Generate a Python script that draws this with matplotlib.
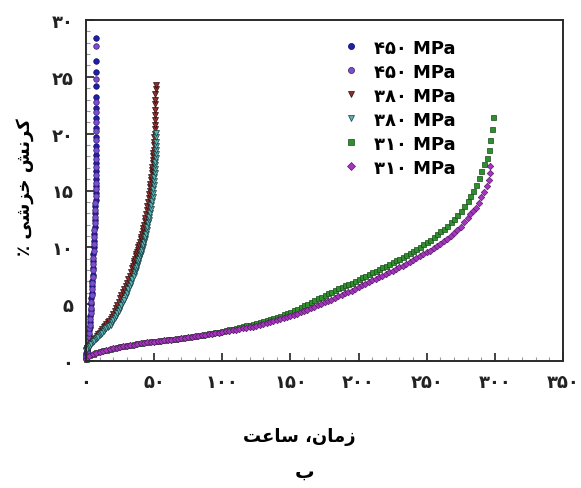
"""Creep strain vs. time at three stress levels (Persian labels)."""

import matplotlib

matplotlib.use("Agg")
import matplotlib.pyplot as plt
from matplotlib.ticker import MultipleLocator

# --- data (time in hours, creep strain in %) ---
t_450a = [0.0, 0.1, 0.3, 0.5, 0.8, 1.1, 1.4, 1.8, 2.1, 2.4, 2.6, 2.9, 3.2, 3.5, 3.8, 4.0,
          4.3, 4.5, 4.7, 4.9, 5.1, 5.3, 5.5, 5.7, 5.9, 6.1, 6.3, 6.5, 6.7, 6.9, 7.0, 7.1,
          7.2, 7.3, 7.4, 7.45, 7.5, 7.5, 7.55, 7.6, 7.6, 7.6, 7.65, 7.65, 7.7, 7.7, 7.7]
e_450a = [0.3, 0.5, 0.7, 0.9, 1.0, 1.3, 1.6, 2.0, 2.3, 2.7, 3.0, 3.4, 4.0, 4.5, 5.0, 5.5,
          6.0, 6.6, 7.0, 7.6, 8.2, 8.8, 9.4, 10.0, 10.6, 11.2, 11.8, 12.4, 13.0, 13.6, 14.2, 14.8,
          15.4, 16.0, 16.7, 17.4, 18.1, 18.9, 19.7, 20.5, 21.4, 22.3, 23.2, 24.2, 25.4, 26.4, 28.4]

t_450b = [0.0, 0.2, 0.4, 0.6, 0.9, 1.2, 1.5, 1.9, 2.2, 2.5, 2.8, 3.1, 3.4, 3.7, 3.9, 4.2,
          4.4, 4.6, 4.8, 5.0, 5.2, 5.4, 5.6, 5.8, 6.0, 6.2, 6.4, 6.6, 6.8, 6.9, 7.0, 7.1,
          7.2, 7.3, 7.35, 7.4, 7.45, 7.5, 7.5, 7.55, 7.6, 7.6, 7.65, 7.7]
e_450b = [0.2, 0.4, 0.6, 0.8, 1.1, 1.4, 1.8, 2.1, 2.5, 2.9, 3.2, 3.7, 4.2, 4.7, 5.2, 5.8,
          6.3, 6.9, 7.4, 8.0, 8.5, 9.1, 9.7, 10.3, 10.9, 11.5, 12.1, 12.7, 13.3, 13.9, 14.5, 15.1,
          15.7, 16.4, 17.1, 17.8, 18.6, 19.4, 20.2, 21.0, 21.9, 22.8, 24.8, 27.7]

t_380a = [0, 1, 2, 3, 4, 5, 6, 7, 8, 9, 10, 11, 12, 13, 14, 15, 16, 17, 18, 19, 20, 21, 22,
          23, 24, 25, 26, 27, 28, 29, 30, 31, 32, 33, 34, 34.5, 35, 35.5, 36, 36.5, 37, 37.5,
          38, 38.5, 39, 39.5, 40, 40.5, 41, 41.5, 42, 42.5, 43, 43.5, 44, 44.5, 45, 45.5, 46,
          46.4, 46.7, 47.0, 47.3, 47.6, 47.9, 48.2, 48.4, 48.7, 48.9, 49.1, 49.3, 49.5, 49.7,
          49.9, 50.0, 50.2, 50.3, 50.4, 50.5, 50.6, 50.7, 50.8, 50.85, 50.9, 50.95, 51.0, 51.0]
e_380a = [1.0, 1.15, 1.3, 1.45, 1.6, 1.75, 1.9, 2.05, 2.2, 2.35, 2.5, 2.65, 2.8, 2.95, 3.1,
          3.25, 3.4, 3.55, 3.7, 3.9, 4.1, 4.4, 4.7, 4.95, 5.2, 5.5, 5.8, 6.05, 6.3, 6.6, 6.9,
          7.2, 7.5, 7.85, 8.2, 8.4, 8.6, 8.8, 9.0, 9.2, 9.4, 9.6, 9.8, 10.0, 10.2, 10.45, 10.7,
          10.95, 11.2, 11.45, 11.7, 12.0, 12.3, 12.6, 12.9, 13.25, 13.6, 13.95, 14.3, 14.65,
          15.0, 15.3, 15.6, 15.9, 16.2, 16.5, 16.8, 17.1, 17.4, 17.7, 18.0, 18.3, 18.6, 19.0,
          19.3, 19.7, 20.0, 20.4, 20.8, 21.2, 21.6, 22.1, 22.6, 23.0, 23.5, 23.9, 24.3]

t_380b = [0, 1, 2, 3, 4, 5, 6, 7, 8, 9, 10, 11, 12, 13, 14, 15, 16, 17, 18, 19, 20, 21, 22,
          23, 24, 25, 26, 27, 28, 29, 30, 31, 32, 33, 34, 35, 36, 36.5, 37, 37.5, 38, 38.5, 39,
          39.5, 40, 40.5, 41, 41.5, 42, 42.5, 43, 43.5, 44, 44.5, 45, 45.5, 46, 46.5, 47, 47.5,
          48, 48.4, 48.8, 49.2, 49.5, 49.8, 50.0, 50.2, 50.4, 50.6, 50.7, 50.85, 51.0, 51.05,
          51.1, 51.15, 51.2, 51.25, 51.3]
e_380b = [0.9, 1.05, 1.2, 1.35, 1.5, 1.65, 1.8, 1.9, 2.0, 2.15, 2.3, 2.4, 2.5, 2.65, 2.8,
          2.9, 3.0, 3.1, 3.2, 3.4, 3.6, 3.8, 4.0, 4.2, 4.4, 4.65, 4.9, 5.15, 5.4, 5.7, 6.0, 6.3,
          6.6, 6.9, 7.2, 7.5, 7.8, 8.0, 8.2, 8.4, 8.6, 8.8, 9.0, 9.2, 9.4, 9.6, 9.8, 10.0, 10.2,
          10.45, 10.7, 10.95, 11.2, 11.5, 11.8, 12.1, 12.4, 12.7, 13.0, 13.35, 13.7, 14.05, 14.4,
          14.75, 15.1, 15.45, 15.8, 16.15, 16.5, 16.85, 17.2, 17.55, 17.9, 18.25, 18.6, 18.95,
          19.3, 19.7, 20.1]

t_310a = [0, 2.5, 5, 7.5, 10, 12.5, 15, 17.5, 20, 22.5, 25, 27.5, 30, 32.5, 35, 37.5, 40,
          42.5, 45, 47.5, 50, 52.5, 55, 57.5, 60, 62.5, 65, 67.5, 70, 72.5, 75, 77.5, 80, 82.5,
          85, 87.5, 90, 92.5, 95, 97.5, 100, 102.5, 105, 107.5, 110, 112.5, 115, 117.5, 120,
          122.5, 125, 127.5, 130, 132.5, 135, 137.5, 140, 142.5, 145, 147.5, 150, 152.5, 155,
          157.5, 160, 162.5, 165, 167.5, 170, 172.5, 175, 177.5, 180, 182.5, 185, 187.5, 190,
          192.5, 195, 197.5, 200, 202.5, 205, 207.5, 210, 212.5, 215, 217.5, 220, 222.5, 225,
          227.5, 230, 232.5, 235, 237.5, 240, 242.5, 245, 247.5, 250, 252.5, 255, 257.5, 260,
          262.5, 265, 267.5, 270, 272.5, 275, 277.5, 280, 282, 284, 286, 288, 290, 292, 294,
          295.5, 296.7, 297.8, 298.4]
e_310a = [0.2, 0.5, 0.65, 0.76, 0.85, 0.93, 1.0, 1.08, 1.15, 1.23, 1.3, 1.35, 1.4, 1.45, 1.5,
          1.55, 1.6, 1.65, 1.7, 1.72, 1.75, 1.79, 1.83, 1.87, 1.9, 1.93, 1.97, 2.01, 2.05, 2.09,
          2.13, 2.17, 2.22, 2.27, 2.32, 2.37, 2.42, 2.47, 2.52, 2.58, 2.65, 2.71, 2.78, 2.85,
          2.92, 2.99, 3.06, 3.13, 3.2, 3.28, 3.37, 3.45, 3.54, 3.63, 3.72, 3.81, 3.9, 4.0, 4.1,
          4.22, 4.35, 4.47, 4.6, 4.75, 4.9, 5.05, 5.2, 5.35, 5.5, 5.65, 5.8, 5.95, 6.1, 6.25,
          6.4, 6.52, 6.65, 6.77, 6.9, 7.05, 7.2, 7.35, 7.5, 7.65, 7.8, 7.95, 8.1, 8.25, 8.4,
          8.55, 8.7, 8.85, 9.0, 9.17, 9.35, 9.52, 9.7, 9.87, 10.05, 10.25, 10.45, 10.67, 10.9,
          11.15, 11.4, 11.65, 11.9, 12.2, 12.5, 12.85, 13.2, 13.6, 14.1, 14.5, 15.0, 15.5, 16.1,
          16.7, 17.3, 17.9, 18.6, 19.4, 20.4, 21.5]

t_310b = [0, 2.5, 5, 7.5, 10, 12.5, 15, 17.5, 20, 22.5, 25, 27.5, 30, 32.5, 35, 37.5, 40,
          42.5, 45, 47.5, 50, 52.5, 55, 57.5, 60, 62.5, 65, 67.5, 70, 72.5, 75, 77.5, 80, 82.5,
          85, 87.5, 90, 92.5, 95, 97.5, 100, 102.5, 105, 107.5, 110, 112.5, 115, 117.5, 120,
          122.5, 125, 127.5, 130, 132.5, 135, 137.5, 140, 142.5, 145, 147.5, 150, 152.5, 155,
          157.5, 160, 162.5, 165, 167.5, 170, 172.5, 175, 177.5, 180, 182.5, 185, 187.5, 190,
          192.5, 195, 197.5, 200, 202.5, 205, 207.5, 210, 212.5, 215, 217.5, 220, 222.5, 225,
          227.5, 230, 232.5, 235, 237.5, 240, 242.5, 245, 247.5, 250, 252.5, 255, 257.5, 260,
          262.5, 265, 267.5, 270, 272.5, 275, 277.5, 280, 282, 284, 286, 288, 290, 292, 294,
          295.5, 296.3, 296.8]
e_310b = [0.2, 0.45, 0.6, 0.7, 0.8, 0.88, 0.95, 1.03, 1.1, 1.18, 1.25, 1.3, 1.35, 1.4, 1.45,
          1.5, 1.55, 1.59, 1.63, 1.67, 1.7, 1.74, 1.78, 1.82, 1.85, 1.89, 1.92, 1.96, 2.0, 2.04,
          2.08, 2.12, 2.16, 2.2, 2.25, 2.3, 2.35, 2.4, 2.45, 2.5, 2.55, 2.6, 2.65, 2.7, 2.75,
          2.8, 2.86, 2.91, 2.97, 3.03, 3.1, 3.17, 3.25, 3.32, 3.4, 3.48, 3.57, 3.66, 3.75, 3.85,
          3.95, 4.05, 4.15, 4.27, 4.4, 4.52, 4.65, 4.77, 4.9, 5.02, 5.15, 5.27, 5.4, 5.55, 5.7,
          5.82, 5.95, 6.07, 6.2, 6.35, 6.5, 6.65, 6.8, 6.95, 7.1, 7.25, 7.4, 7.52, 7.65, 7.8,
          7.95, 8.1, 8.25, 8.4, 8.55, 8.7, 8.85, 9.02, 9.2, 9.37, 9.55, 9.72, 9.9, 10.1, 10.3,
          10.52, 10.75, 11.0, 11.25, 11.52, 11.8, 12.2, 12.6, 12.9, 13.2, 13.5, 13.9, 14.4,
          14.9, 15.4, 15.9, 16.5, 17.15]

series_labels = ["۴۵۰ MPa", "۴۵۰ MPa", "۳۸۰ MPa", "۳۸۰ MPa", "۳۱۰ MPa", "۳۱۰ MPa"]

x_ticks = [0, 50, 100, 150, 200, 250, 300, 350]
x_tick_labels = ["۰", "۵۰", "۱۰۰", "۱۵۰", "۲۰۰", "۲۵۰", "۳۰۰", "۳۵۰"]
y_ticks = [0, 5, 10, 15, 20, 25, 30]
y_tick_labels = ["۰", "۵", "۱۰", "۱۵", "۲۰", "۲۵", "۳۰"]

# Persian text written in shaped presentation forms, visual (left-to-right) order,
# because matplotlib does no Arabic shaping or bidi reordering.
x_label = "\ufe96\ufecb\ufe8e\ufeb3 \u060c\ufee5\ufe8e\ufee3\ufeaf"  # زمان، ساعت
y_label = "\u066a \ufbfd\ufeb7\ufeb0\ufea7 \ufeb6\ufee7\ufeae\ufb90"  # کرنش خزشی ٪
sub_caption = "\ufe8f"  # ب

# --- styling ---
styles = [
    dict(marker="o", color="#1f1fae", edge="#0a0a55", ms=4.0),
    dict(marker="o", color="#7b4dd0", edge="#33205f", ms=4.0),
    dict(marker="v", color="#952a2a", edge="#2a0c0c", ms=4.4),
    dict(marker="v", color="#58b2b5", edge="#183c3c", ms=4.4),
    dict(marker="s", color="#2f8f2f", edge="#164a16", ms=3.6),
    dict(marker="D", color="#a535bf", edge="#5a1a68", ms=3.3),
]

FONT = ["DejaVu Sans"]
plt.rcParams["font.family"] = FONT
plt.rcParams["font.weight"] = "bold"

fig = plt.figure(figsize=(5.81, 4.89), dpi=100)
ax = fig.add_axes([86 / 581, 1 - 362 / 489, (563 - 86) / 581, (362 - 21) / 489])

data = [(t_450a, e_450a), (t_450b, e_450b), (t_380a, e_380a),
        (t_380b, e_380b), (t_310a, e_310a), (t_310b, e_310b)]
handles = []
for (t, e), st, lab in zip(data, styles, series_labels):
    (h,) = ax.plot(t, e, linestyle="none", marker=st["marker"], markersize=st["ms"],
                   markerfacecolor=st["color"], markeredgecolor=st["edge"],
                   markeredgewidth=0.5, label=lab, clip_on=False)
    handles.append(h)

ax.set_xlim(0, 350)
ax.set_ylim(0, 30)
ax.set_xticks(x_ticks)
ax.set_xticklabels(x_tick_labels)
ax.set_yticks(y_ticks)
ax.set_yticklabels(y_tick_labels)
ax.xaxis.set_minor_locator(MultipleLocator(10))
ax.yaxis.set_minor_locator(MultipleLocator(1))
ax.tick_params(which="both", direction="in", top=False, right=False, colors="#222222")
ax.tick_params(which="major", length=6, width=1.2, labelsize=13, pad=9)
ax.tick_params(which="minor", length=3, width=0.8, color="#999999")
for lbl in ax.get_xticklabels() + ax.get_yticklabels():
    lbl.set_fontweight("bold")
for sp in ax.spines.values():
    sp.set_linewidth(1.4)
    sp.set_color("#2a2a2a")

ax.legend(handles=handles, loc="upper left", bbox_to_anchor=(0.513, 0.982),
          frameon=False, prop=dict(family=FONT, weight="bold", size=13),
          handlelength=0.8, handletextpad=0.9, labelspacing=0.33,
          borderpad=0.2, markerscale=1.1)

fig.text(299 / 581, 1 - 437 / 489, x_label, ha="center", va="center",
         fontsize=13, fontweight="bold", family=FONT)
fig.text(25 / 581, 1 - 187 / 489, y_label, ha="center", va="center", rotation=90,
         fontsize=13, fontweight="bold", family=FONT)
fig.text(305 / 581, 1 - 472 / 489, sub_caption, ha="center", va="center",
         fontsize=14, family=FONT)

fig.savefig("out.png", dpi=100)
